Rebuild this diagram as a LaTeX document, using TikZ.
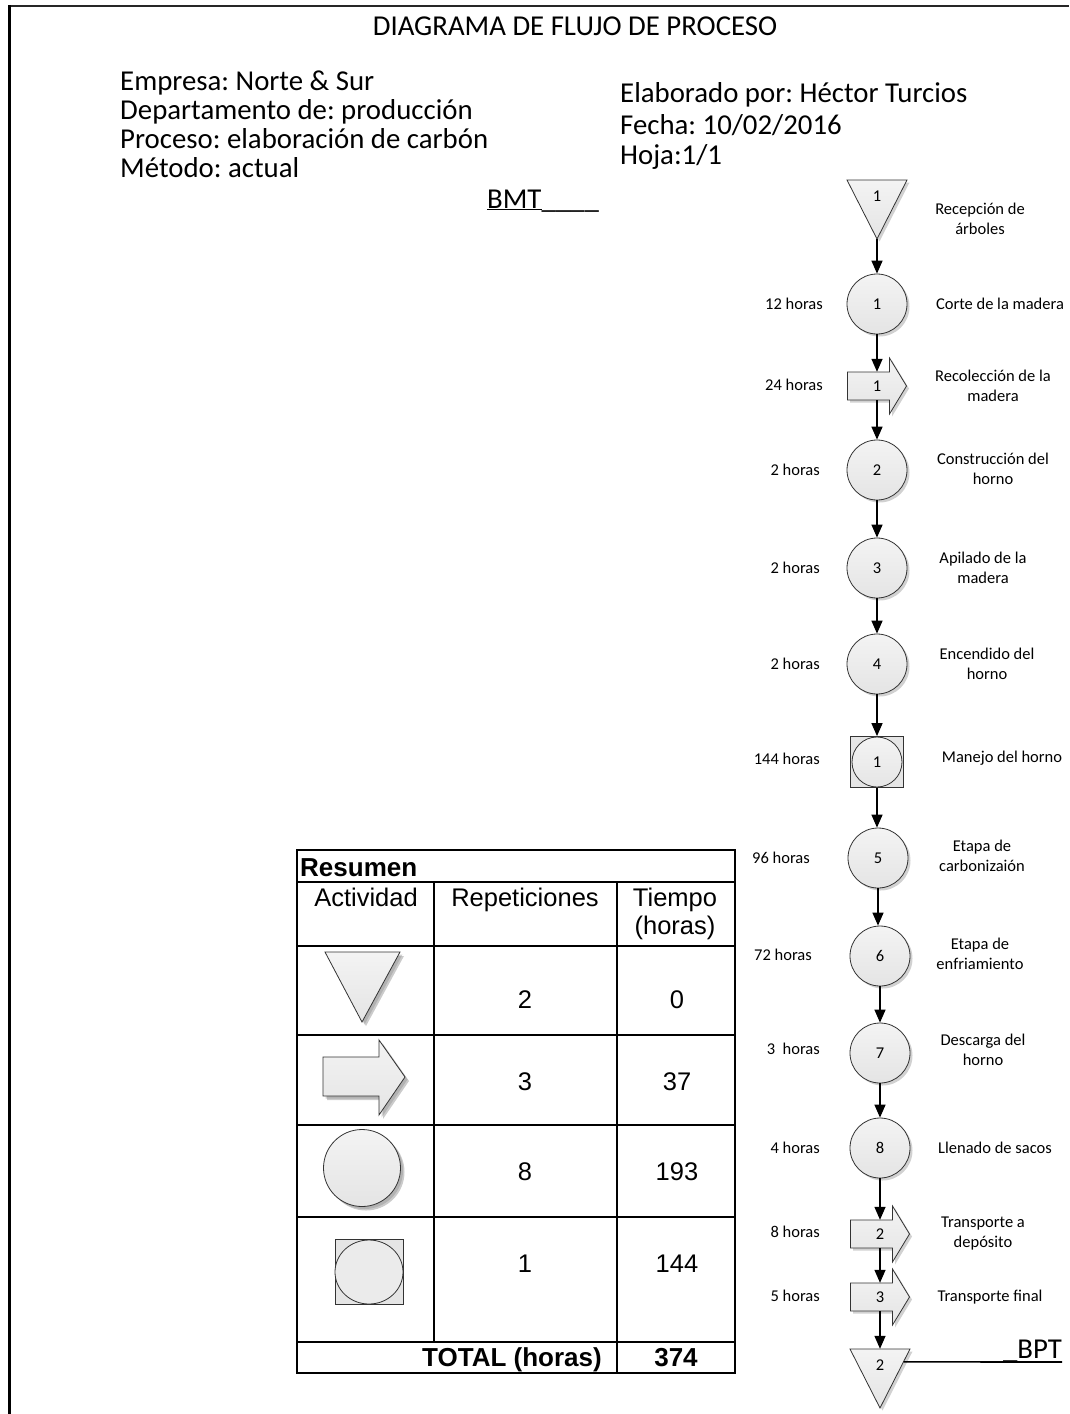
\documentclass[tikz,border=0pt]{standalone}
\usepackage{fontspec}
\setmainfont{Carlito}
\newfontfamily\arialf{Liberation Sans}
\frenchspacing
\usetikzlibrary{arrows.meta,shadows,calc,shapes.geometric}
\newcommand\transp[4]{%
  \begin{scope}[shift={(#2,#3)}]
    \path[shapefill] (-29.5,-14) -- (12.5,-14) -- (12.5,-28) -- (29.5,0) -- (12.5,28) -- (12.5,14) -- (-29.5,14) -- cycle;
    \node[minimum width=59pt, minimum height=28pt, inner sep=0pt, font=\fontsize{16.5}{20}\selectfont] (#1) at (0,0) {#4};
  \end{scope}}
\newcommand\storage[4]{%
  \path[shapefill] (#2-30,#3) -- (#2+30,#3) -- (#2,#3+59) -- cycle;
  \node[minimum width=60pt, minimum height=59pt, inner sep=0pt] (#1) at (#2,#3+29.5) {};
  \node[font=\fontsize{16.5}{20}\selectfont, inner sep=0pt] (#1l) at (#2,#3+16) {#4};}
\begin{document}
\begin{tikzpicture}[x=1pt,y=-1pt,
  big/.style={font=\fontsize{28.8}{34}\selectfont, inner sep=0pt},
  small/.style={font=\fontsize{16.5}{20}\selectfont, inner sep=0pt, align=center},
  tbl/.style={font=\arialf\fontsize{25.5}{28}\selectfont, inner sep=0pt},
  tblb/.style={font=\arialf\bfseries\fontsize{26}{28}\selectfont, inner sep=0pt},
  shapefill/.style={draw=black!80, line width=0.8pt, top color=gray!9, bottom color=gray!21,
    drop shadow={shadow xshift=2.5pt, shadow yshift=-2.5pt, fill=black!40, opacity=0.45}},
  tshadow/.style={drop shadow={shadow xshift=4pt, shadow yshift=-4pt, fill=black!45, opacity=0.45}},
  opcircle/.style={circle, shapefill, minimum size=60pt, inner sep=0pt, font=\fontsize{16.5}{20}\selectfont},
  flow/.style={line width=1.4pt, -{Triangle[width=11pt,length=13pt]}},
  frameline/.style={line width=2.5pt, black!85},
  grid/.style={line width=2pt}
]
\useasboundingbox (0,0) rectangle (1069,1414);
% page frame
\draw[frameline] (9,6) -- (1069,6);
\draw[line width=3pt] (9,5) -- (9,1414);

% header
\node[big, anchor=base] (title) at (575,35) {DIAGRAMA DE FLUJO DE PROCESO};
\node[big, anchor=base west] (emp) at (120,90) {Empresa: Norte \& Sur};
\node[big, anchor=base west] (dep) at (120,119) {Departamento de: producción};
\node[big, anchor=base west] (pro) at (120,148) {Proceso: elaboración de carbón};
\node[big, anchor=base west] (met) at (120,177) {Método: actual};
\node[big, anchor=base west] (ela) at (620,102) {Elaborado por: Héctor Turcios};
\node[big, anchor=base west] (fec) at (620,134) {Fecha: 10/02/2016};
\node[big, anchor=base west] (hoj) at (620,164) {Hoja:1/1};
\node[big, anchor=base west] (bmt) at (487,208) {\underline{BMT}\_\_\_\_};

% flow shapes
\storage{t1}{877}{180}{1}
\node[opcircle] (c1) at (877,304) {1};
\transp{tr1}{877}{386}{1}
\node[opcircle] (c2) at (877,470) {2};
\node[opcircle] (c3) at (877,568) {3};
\node[opcircle] (c4) at (877,664) {4};
\node[rectangle, draw=black!80, line width=0.8pt, fill=gray!20, minimum width=53pt, minimum height=51pt, inner sep=0pt] (sq1) at (877,762) {};
\node[circle, draw=black!80, line width=0.8pt, top color=gray!9, bottom color=gray!20, minimum size=50pt, inner sep=0pt, font=\fontsize{16.5}{20}\selectfont] (sq1c) at (sq1.center) {1};
\node[opcircle] (c5) at (878,858) {5};
\node[opcircle] (c6) at (880,956) {6};
\node[opcircle] (c7) at (880,1053) {7};
\node[opcircle] (c8) at (880,1148) {8};
\transp{tr2}{880}{1234}{2}
\transp{tr3}{880}{1297}{3}
\storage{t2}{880}{1349}{2}

% connectors
\draw[flow] (t1.south) -- (c1.north);
\draw[flow] (c1.south) -- (tr1.north);
\draw[flow] (tr1.south) -- (c2.north);
\draw[flow] (c2.south) -- (c3.north);
\draw[flow] (c3.south) -- (c4.north);
\draw[flow] (c4.south) -- (sq1.north);
\draw[flow] (sq1.south) -- (sq1.south |- c5.north);
\draw[flow] (c5.south) -- (c5.south |- c6.north);
\draw[flow] (c6.south) -- (c7.north);
\draw[flow] (c7.south) -- (c8.north);
\draw[flow] (c8.south) -- (tr2.north);
\draw[flow] (tr2.south) -- (tr3.north);
\draw[flow] (tr3.south) -- (t2.north);

% BPT
\coordinate (bptend) at (1062,1362);
\draw[line width=1.6pt] ($(t2.north east)!0.22!(t2.south)$) -- (bptend);
\node[big, anchor=base east] (bpt) at (1062,1358) {\_BPT};

% times
\node[small, anchor=east] (h1) at (823,304) {12 horas};
\node[small, anchor=east] (h2) at (823,385) {24 horas};
\node[small, anchor=east] (h3) at (820,470) {2 horas};
\node[small, anchor=east] (h4) at (820,568) {2 horas};
\node[small, anchor=east] (h5) at (820,664) {2 horas};
\node[small, anchor=east] (h6) at (820,759) {144 horas};
\node[small, anchor=east] (h7) at (810,858) {96 horas};
\node[small, anchor=east] (h8) at (812,955) {72 horas};
\node[small, anchor=east] (h9) at (820,1049) {3~~horas};
\node[small, anchor=east] (h10) at (820,1148) {4 horas};
\node[small, anchor=east] (h11) at (820,1232) {8 horas};
\node[small, anchor=east] (h12) at (820,1296) {5 horas};

% descriptions
\node[small] (d1) at (980,219) {Recepción de\\árboles};
\node[small] (d2) at (1000,304) {Corte de la madera};
\node[small] (d3) at (993,386) {Recolección de la\\madera};
\node[small] (d4) at (993,469) {Construcción del\\horno};
\node[small] (d5) at (983,568) {Apilado de la\\madera};
\node[small] (d6) at (987,664) {Encendido del\\horno};
\node[small] (d7) at (1002,758) {Manejo del horno};
\node[small] (d8) at (982,856) {Etapa de\\carbonizaión};
\node[small] (d9) at (980,954) {Etapa de\\enfriamiento};
\node[small] (d10) at (983,1050) {Descarga del\\horno};
\node[small] (d11) at (995,1148) {Llenado de sacos};
\node[small] (d12) at (983,1234) {Transporte a\\depósito};
\node[small] (d13) at (990,1297) {Transporte final};

% summary table
\draw[grid] (297,850) rectangle (735,1373);
\foreach \yy in {882,946,1035,1125,1217,1342} \draw[grid] (297,\yy) -- (735,\yy);
\draw[grid] (434,882) -- (434,1342);
\draw[grid] (617,882) -- (617,1373);

\node[tblb, anchor=base west] (res) at (300,876) {Resumen};
\node[tbl, anchor=base] (act) at (366,906) {Actividad};
\node[tbl, anchor=base] (rep) at (525,906) {Repeticiones};
\node[tbl, anchor=base] (tie) at (675,906) {Tiempo};
\node[tbl, anchor=base] (tih) at (675,934) {(horas)};

% table symbols
\path[shapefill, tshadow] (325,952) -- (400,952) -- (362,1022) -- cycle;
\path[shapefill, tshadow] (323,1057) -- (379,1057) -- (379,1040) -- (405,1077) -- (379,1115) -- (379,1096) -- (323,1096) -- cycle;
\node[circle, shapefill, tshadow, minimum size=77pt, inner sep=0pt] (tc) at (362,1168) {};
\node[rectangle, draw=black!80, line width=0.8pt, fill=gray!20, minimum width=68pt, minimum height=65pt, inner sep=0pt] (tsq) at (369,1272) {};
\node[ellipse, draw=black!80, line width=0.8pt, fill=gray!16, minimum width=68pt, minimum height=64pt, inner sep=0pt] (tsqc) at (tsq.center) {};

% table numbers
\node[tbl] (n1) at (525,1000) {2};
\node[tbl] (m1) at (677,1000) {0};
\node[tbl] (n2) at (525,1082) {3};
\node[tbl] (m2) at (677,1082) {37};
\node[tbl] (n3) at (525,1172) {8};
\node[tbl] (m3) at (677,1172) {193};
\node[tbl] (n4) at (525,1264) {1};
\node[tbl] (m4) at (677,1264) {144};
\node[tblb, anchor=base east] (tot) at (602,1366) {TOTAL (horas)};
\node[tblb, anchor=base] (totv) at (676,1366) {374};
\end{tikzpicture}
\end{document}
